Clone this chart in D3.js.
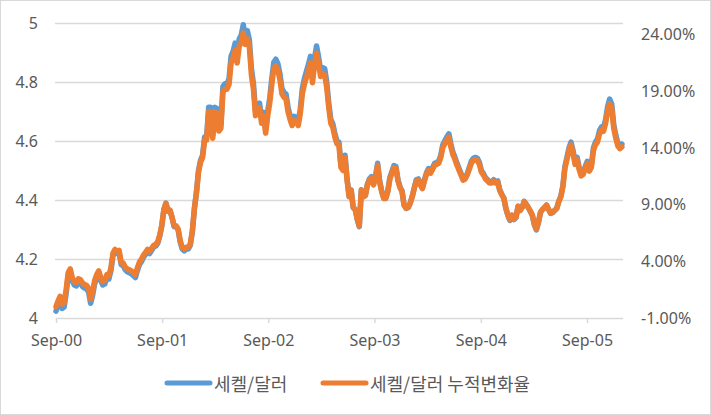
<!DOCTYPE html>
<html>
<head>
<meta charset="utf-8">
<script src="https://cdn.jsdelivr.net/npm/d3@7/dist/d3.min.js"></script>
<style>
  html, body { margin: 0; padding: 0; background: #fff; }
  svg { display: block; }
  text { fill: #595959; }
</style>
</head>
<body>
<svg id="chart" width="711" height="415"></svg>
<script>
// ---------------- DATA ----------------
const seriesNames = ["세켈/달러", "세켈/달러 누적변화율"];
const firstWeek = "2000-09-01";   // weekly observations start here
// 세켈/달러 (left axis)
const rate = [
  4.023, 4.043, 4.060, 4.032, 4.037, 4.084, 4.144, 4.157, 4.126, 4.112,
  4.109, 4.122, 4.119, 4.107, 4.102, 4.099, 4.088, 4.050, 4.077, 4.116,
  4.137, 4.150, 4.126, 4.112, 4.116, 4.137, 4.133, 4.161, 4.213, 4.226,
  4.219, 4.223, 4.181, 4.178, 4.164, 4.157, 4.154, 4.150, 4.144, 4.137,
  4.161, 4.181, 4.192, 4.206, 4.216, 4.226, 4.219, 4.230, 4.241, 4.244,
  4.254, 4.278, 4.313, 4.368, 4.390, 4.362, 4.365, 4.341, 4.310, 4.310,
  4.299, 4.258, 4.234, 4.228, 4.234, 4.234, 4.247, 4.293, 4.372, 4.427,
  4.500, 4.535, 4.552, 4.614, 4.614, 4.715, 4.715, 4.621, 4.715, 4.711,
  4.646, 4.656, 4.785, 4.795, 4.795, 4.812, 4.888, 4.905, 4.933, 4.888,
  4.947, 4.960, 4.995, 4.954, 4.975, 4.943, 4.846, 4.795, 4.701, 4.715,
  4.729, 4.674, 4.698, 4.639, 4.701, 4.746, 4.812, 4.868, 4.878, 4.863,
  4.829, 4.778, 4.766, 4.760, 4.715, 4.687, 4.666, 4.684, 4.681, 4.666,
  4.708, 4.778, 4.812, 4.836, 4.860, 4.888, 4.818, 4.881, 4.923, 4.885,
  4.840, 4.850, 4.846, 4.801, 4.729, 4.674, 4.659, 4.625, 4.601, 4.597,
  4.517, 4.507, 4.552, 4.472, 4.413, 4.435, 4.375, 4.368, 4.334, 4.310,
  4.435, 4.413, 4.417, 4.455, 4.472, 4.480, 4.455, 4.483, 4.525, 4.465,
  4.431, 4.407, 4.407, 4.431, 4.476, 4.497, 4.517, 4.514, 4.469, 4.445,
  4.431, 4.383, 4.372, 4.375, 4.390, 4.413, 4.442, 4.469, 4.472, 4.455,
  4.442, 4.469, 4.493, 4.507, 4.497, 4.510, 4.525, 4.528, 4.532, 4.552,
  4.587, 4.601, 4.614, 4.625, 4.590, 4.562, 4.545, 4.525, 4.507, 4.490,
  4.472, 4.476, 4.490, 4.510, 4.532, 4.542, 4.545, 4.542, 4.528, 4.500,
  4.490, 4.476, 4.469, 4.462, 4.462, 4.469, 4.462, 4.465, 4.435, 4.420,
  4.407, 4.372, 4.348, 4.331, 4.348, 4.334, 4.341, 4.379, 4.365, 4.375,
  4.396, 4.386, 4.375, 4.362, 4.348, 4.316, 4.299, 4.323, 4.358, 4.368,
  4.375, 4.383, 4.368, 4.355, 4.358, 4.365, 4.372, 4.396, 4.413, 4.448,
  4.514, 4.545, 4.577, 4.597, 4.569, 4.528, 4.545, 4.510, 4.487, 4.493,
  4.514, 4.532, 4.504, 4.517, 4.577, 4.597, 4.607, 4.636, 4.649, 4.646,
  4.674, 4.718, 4.743, 4.726, 4.656, 4.621, 4.594, 4.584, 4.590
];
// 세켈/달러 누적변화율 (%, right axis)
const cumChange = [
  0.00, 0.50, 0.92, 0.22, 0.35, 1.52, 3.01, 3.33, 2.56, 2.21,
  2.14, 2.46, 2.39, 2.09, 1.96, 1.89, 1.62, 0.67, 1.34, 2.31,
  2.83, 3.16, 2.56, 2.21, 2.31, 2.83, 2.73, 3.43, 4.72, 5.05,
  4.87, 4.97, 3.93, 3.85, 3.50, 3.33, 3.26, 3.16, 3.01, 2.83,
  3.43, 3.93, 4.20, 4.55, 4.80, 5.05, 4.87, 5.15, 5.42, 5.49,
  5.74, 6.34, 7.21, 8.58, 9.12, 8.43, 8.50, 7.90, 7.13, 7.13,
  6.86, 5.84, 5.24, 5.10, 5.24, 5.24, 5.57, 6.71, 8.68, 10.04,
  11.86, 12.73, 13.15, 14.69, 14.69, 17.20, 17.20, 14.86, 17.20, 17.10,
  15.49, 15.73, 18.94, 19.19, 19.19, 19.61, 21.50, 21.92, 22.62, 21.50,
  22.97, 23.29, 24.16, 23.14, 23.66, 22.87, 20.46, 19.19, 16.85, 17.20,
  17.55, 16.18, 16.78, 15.31, 16.85, 17.97, 19.61, 21.00, 21.25, 20.88,
  20.03, 18.77, 18.47, 18.32, 17.20, 16.50, 15.98, 16.43, 16.36, 15.98,
  17.03, 18.77, 19.61, 20.21, 20.81, 21.50, 19.76, 21.33, 22.37, 21.43,
  20.31, 20.56, 20.46, 19.34, 17.55, 16.18, 15.81, 14.96, 14.37, 14.27,
  12.28, 12.03, 13.15, 11.16, 9.69, 10.24, 8.75, 8.58, 7.73, 7.13,
  10.24, 9.69, 9.79, 10.74, 11.16, 11.36, 10.74, 11.43, 12.48, 10.99,
  10.14, 9.55, 9.55, 10.14, 11.26, 11.78, 12.28, 12.20, 11.09, 10.49,
  10.14, 8.95, 8.68, 8.75, 9.12, 9.69, 10.42, 11.09, 11.16, 10.74,
  10.42, 11.09, 11.68, 12.03, 11.78, 12.11, 12.48, 12.55, 12.65, 13.15,
  14.02, 14.37, 14.69, 14.96, 14.09, 13.40, 12.98, 12.48, 12.03, 11.61,
  11.16, 11.26, 11.61, 12.11, 12.65, 12.90, 12.98, 12.90, 12.55, 11.86,
  11.61, 11.26, 11.09, 10.91, 10.91, 11.09, 10.91, 10.99, 10.24, 9.87,
  9.55, 8.68, 8.08, 7.66, 8.08, 7.73, 7.90, 8.85, 8.50, 8.75,
  9.27, 9.02, 8.75, 8.43, 8.08, 7.28, 6.86, 7.46, 8.33, 8.58,
  8.75, 8.95, 8.58, 8.25, 8.33, 8.50, 8.68, 9.27, 9.69, 10.56,
  12.20, 12.98, 13.77, 14.27, 13.57, 12.55, 12.98, 12.11, 11.53, 11.68,
  12.20, 12.65, 11.96, 12.28, 13.77, 14.27, 14.52, 15.24, 15.56, 15.49,
  16.18, 17.28, 17.90, 17.47, 15.73, 14.86, 14.19, 13.94, 14.09
];
const leftTicks = [4, 4.2, 4.4, 4.6, 4.8, 5];
const rightTicks = [-1, 4, 9, 14, 19, 24];
const xTickDates = ["2000-09-01", "2001-09-01", "2002-09-01", "2003-09-01", "2004-09-01", "2005-09-01"];
const xTickLabels = ["Sep-00", "Sep-01", "Sep-02", "Sep-03", "Sep-04", "Sep-05"];

// ---------------- CHART ----------------
const parse = d3.timeParse("%Y-%m-%d");
const start = parse(firstWeek);
const dates = rate.map((_, i) => d3.timeDay.offset(start, 7 * i));

const svg = d3.select("#chart");
const W = 711, H = 415;
const plot = { left: 56, right: 623, top: 23.3, bottom: 318 };

svg.append("rect").attr("x", 0.5).attr("y", 0.5).attr("width", W - 1).attr("height", H - 1)
  .attr("fill", "#fff").attr("stroke", "#d9d9d9").attr("stroke-width", 1);

const x = d3.scaleTime()
  .domain([parse(xTickDates[0]), parse(xTickDates[5])])
  .range([plot.left, 587]);
const yL = d3.scaleLinear().domain([4, 5]).range([plot.bottom, plot.top]);
const yR = d3.scaleLinear().domain([-1, 25]).range([plot.bottom, plot.top]);

const font = "'Noto Sans', 'Noto Sans CJK KR', sans-serif";

// gridlines
svg.append("g").selectAll("line").data(leftTicks.slice(1)).join("line")
  .attr("x1", plot.left - 1).attr("x2", plot.right)
  .attr("y1", d => Math.round(yL(d)) + 0.5).attr("y2", d => Math.round(yL(d)) + 0.5)
  .attr("stroke", "#d9d9d9").attr("stroke-width", 1.3);

// x axis
const xAxis = d3.axisBottom(x)
  .tickValues(xTickDates.map(parse))
  .tickFormat((d, i) => xTickLabels[i])
  .tickSize(5).tickPadding(12);
const gx = svg.append("g").attr("transform", `translate(0,${plot.bottom})`).call(xAxis);
gx.select(".domain").attr("d", `M${plot.left},0.5H${plot.right}`).attr("stroke", "#d9d9d9").attr("stroke-width", 1.5);
gx.selectAll(".tick line").attr("stroke", "#d9d9d9").attr("stroke-width", 1.5);
gx.selectAll(".tick text").attr("font-family", font).attr("font-size", 16).attr("fill", "#595959");

// left axis
const yAxisL = d3.axisLeft(yL).tickValues(leftTicks).tickFormat(d3.format("~g")).tickSize(0).tickPadding(18);
const gl = svg.append("g").attr("transform", `translate(${plot.left},0)`).call(yAxisL);
gl.select(".domain").remove();
gl.selectAll(".tick text").attr("font-family", font).attr("font-size", 16).attr("fill", "#595959");

// right axis
const yAxisR = d3.axisRight(yR).tickValues(rightTicks).tickFormat(d => d.toFixed(2) + "%").tickSize(0).tickPadding(18);
const gr = svg.append("g").attr("transform", `translate(${plot.right},0)`).call(yAxisR);
gr.select(".domain").remove();
gr.selectAll(".tick text").attr("font-family", font).attr("font-size", 16).attr("fill", "#595959");

// lines
const lineL = d3.line().x((d, i) => x(dates[i])).y(d => yL(d));
const lineR = d3.line().x((d, i) => x(dates[i])).y(d => yR(d));
svg.append("path").datum(rate).attr("d", lineL)
  .attr("fill", "none").attr("stroke", "#5B9BD5").attr("stroke-width", 5.5)
  .attr("stroke-linejoin", "round").attr("stroke-linecap", "round");
svg.append("path").datum(cumChange).attr("d", lineR)
  .attr("fill", "none").attr("stroke", "#ED7D31").attr("stroke-width", 5.5)
  .attr("stroke-linejoin", "round").attr("stroke-linecap", "round");

// legend
const colors = ["#5B9BD5", "#ED7D31"];
const legendX = [167, 323];
const lg = svg.append("g");
seriesNames.forEach((name, i) => {
  lg.append("line").attr("x1", legendX[i]).attr("x2", legendX[i] + 43)
    .attr("y1", 383).attr("y2", 383)
    .attr("stroke", colors[i]).attr("stroke-width", 5).attr("stroke-linecap", "round");
  lg.append("text").attr("x", legendX[i] + 47).attr("y", 383)
    .attr("dominant-baseline", "central")
    .attr("font-family", "'Noto Sans CJK KR', sans-serif").attr("font-size", 18)
    .attr("fill", "#595959").text(name);
});
</script>
</body>
</html>
